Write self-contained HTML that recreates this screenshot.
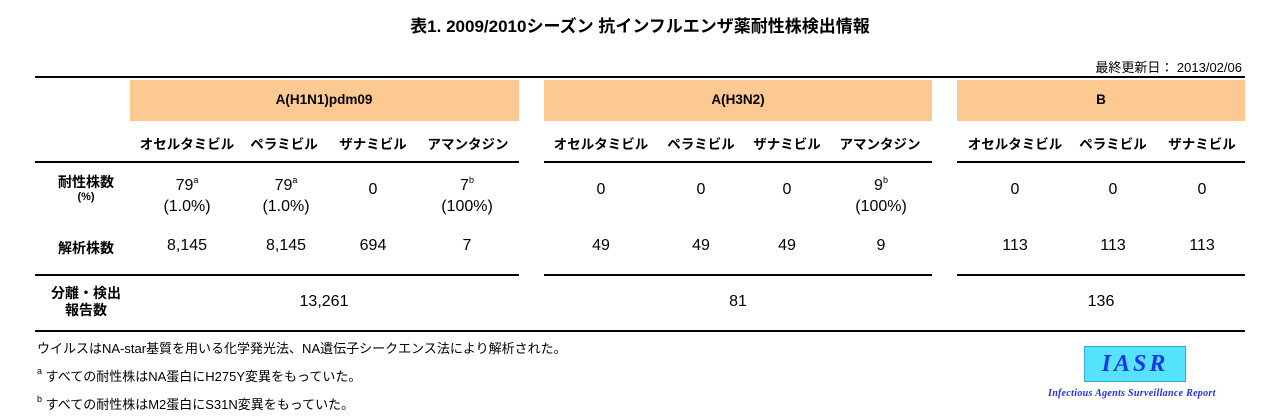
<!DOCTYPE html>
<html><head><meta charset="utf-8"><style>
body{margin:0;width:1280px;height:417px;background:#fff;position:relative;overflow:hidden;font-family:"Liberation Sans","Noto Sans CJK JP",sans-serif;color:#000}
.a{position:absolute;white-space:nowrap}
.c{transform:translateX(-50%);text-align:center}
.band{position:absolute;top:80px;height:41px;background:#fdc993}
.ln{position:absolute;background:#000}
.h{font-size:13.5px;font-weight:bold;top:133px}
.n{font-size:16px}
sup{font-size:9px;vertical-align:7px}
.f{font-size:13px;left:37px}
</style></head><body>
<div class="a c" style="left:640px;top:12px;font-size:17px;font-weight:bold">表1. 2009/2010シーズン 抗インフルエンザ薬耐性株検出情報</div>
<div class="a" style="right:38px;top:57px;font-size:13px">最終更新日： 2013/02/06</div>
<div class="ln" style="left:35px;top:76px;width:1210px;height:2px"></div>
<div class="band" style="left:130px;width:389px"></div>
<div class="band" style="left:544px;width:388px"></div>
<div class="band" style="left:957px;width:288px"></div>
<div class="a c" style="left:324px;top:92px;font-size:13.5px;font-weight:bold">A(H1N1)pdm09</div>
<div class="a c" style="left:738px;top:92px;font-size:13.5px;font-weight:bold">A(H3N2)</div>
<div class="a c" style="left:1101px;top:92px;font-size:13.5px;font-weight:bold">B</div>
<div class="a c h" style="left:187px">オセルタミビル</div>
<div class="a c h" style="left:284px">ペラミビル</div>
<div class="a c h" style="left:373px">ザナミビル</div>
<div class="a c h" style="left:468px">アマンタジン</div>
<div class="a c h" style="left:601px">オセルタミビル</div>
<div class="a c h" style="left:701px">ペラミビル</div>
<div class="a c h" style="left:787px">ザナミビル</div>
<div class="a c h" style="left:880px">アマンタジン</div>
<div class="a c h" style="left:1015px">オセルタミビル</div>
<div class="a c h" style="left:1113px">ペラミビル</div>
<div class="a c h" style="left:1202px">ザナミビル</div>
<div class="ln" style="left:35px;top:161px;width:484px;height:2px"></div>
<div class="ln" style="left:544px;top:161px;width:388px;height:2px"></div>
<div class="ln" style="left:957px;top:161px;width:288px;height:2px"></div>
<div class="a c" style="left:86px;top:172px;font-size:14px;font-weight:bold">耐性株数</div>
<div class="a c" style="left:86px;top:191px;font-size:11px;font-weight:bold">(%)</div>
<div class="a c n" style="left:187px;top:170px;line-height:21px">79<sup>a</sup><br>(1.0%)</div>
<div class="a c n" style="left:286px;top:170px;line-height:21px">79<sup>a</sup><br>(1.0%)</div>
<div class="a c n" style="left:373px;top:181px">0</div>
<div class="a c n" style="left:467px;top:170px;line-height:21px">7<sup>b</sup><br>(100%)</div>
<div class="a c n" style="left:601px;top:181px">0</div>
<div class="a c n" style="left:701px;top:181px">0</div>
<div class="a c n" style="left:787px;top:181px">0</div>
<div class="a c n" style="left:881px;top:170px;line-height:21px">9<sup>b</sup><br>(100%)</div>
<div class="a c n" style="left:1015px;top:181px">0</div>
<div class="a c n" style="left:1113px;top:181px">0</div>
<div class="a c n" style="left:1202px;top:181px">0</div>
<div class="a c" style="left:86px;top:238px;font-size:14px;font-weight:bold">解析株数</div>
<div class="a c n" style="left:187px;top:237px">8,145</div>
<div class="a c n" style="left:286px;top:237px">8,145</div>
<div class="a c n" style="left:373px;top:237px">694</div>
<div class="a c n" style="left:467px;top:237px">7</div>
<div class="a c n" style="left:601px;top:237px">49</div>
<div class="a c n" style="left:701px;top:237px">49</div>
<div class="a c n" style="left:787px;top:237px">49</div>
<div class="a c n" style="left:881px;top:237px">9</div>
<div class="a c n" style="left:1015px;top:237px">113</div>
<div class="a c n" style="left:1113px;top:237px">113</div>
<div class="a c n" style="left:1202px;top:237px">113</div>
<div class="ln" style="left:35px;top:274px;width:484px;height:2px"></div>
<div class="ln" style="left:544px;top:274px;width:388px;height:2px"></div>
<div class="ln" style="left:957px;top:274px;width:288px;height:2px"></div>
<div class="a c" style="left:86px;top:285px;font-size:14px;font-weight:bold;line-height:17px">分離・検出<br>報告数</div>
<div class="a c n" style="left:324px;top:293px">13,261</div>
<div class="a c n" style="left:738px;top:293px">81</div>
<div class="a c n" style="left:1101px;top:293px">136</div>
<div class="ln" style="left:35px;top:330px;width:1210px;height:2px"></div>
<div class="a f" style="top:338px">ウイルスはNA-star基質を用いる化学発光法、NA遺伝子シークエンス法により解析された。</div>
<div class="a f" style="top:366px"><sup>a</sup> すべての耐性株はNA蛋白にH275Y変異をもっていた。</div>
<div class="a f" style="top:394px"><sup>b</sup> すべての耐性株はM2蛋白にS31N変異をもっていた。</div>
<div class="a" style="left:1084px;top:346px;width:100px;height:34px;background:#55e3fb;border:1px solid #33b0d8;text-align:center;font:italic bold 24px 'Liberation Serif',serif;color:#1637e8;line-height:34px;letter-spacing:3px">IASR</div>
<div class="a" style="left:1048px;top:388px;font:italic bold 10px 'Liberation Serif',serif;color:#1f2ee0;letter-spacing:0.3px">Infectious Agents Surveillance Report</div>
</body></html>
